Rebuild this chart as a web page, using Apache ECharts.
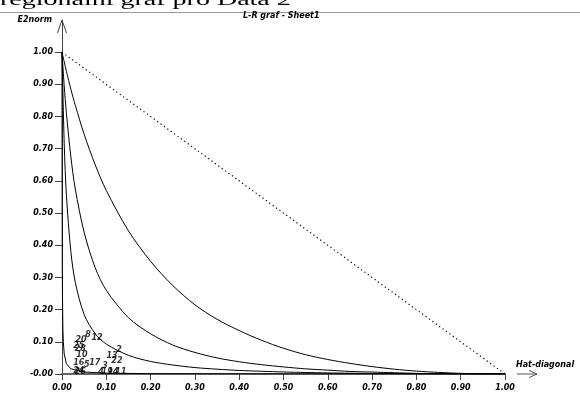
<!DOCTYPE html>
<html>
<head>
<meta charset="utf-8">
<script src="https://cdn.jsdelivr.net/npm/echarts@6/dist/echarts.min.js"></script>
<style>
  html, body { margin: 0; padding: 0; background: #fff; }
  #chart { width: 580px; height: 394px; }
</style>
</head>
<body>
<div id="chart"></div>
<script>
// Tick positions shared by both axes
const tickValues = [0, 0.1, 0.2, 0.3, 0.4, 0.5, 0.6, 0.7, 0.8, 0.9, 1.0];

// Hat-diagonal values where the three outer contours are sampled
const contourHat = [0, 0.005, 0.01, 0.02, 0.03, 0.05, 0.075, 0.1, 0.15, 0.2, 0.25, 0.3, 0.35,
  0.4, 0.45, 0.5, 0.55, 0.6, 0.65, 0.7, 0.75, 0.8, 0.85, 0.9, 0.95, 1];
const contourOuter = [1, 0.97, 0.94, 0.885, 0.835, 0.745, 0.65, 0.57, 0.445, 0.35, 0.275, 0.215, 0.17,
  0.135, 0.105, 0.08, 0.06, 0.045, 0.033, 0.023, 0.015, 0.009, 0.005, 0.002, 0.0005, 0];
const contourMiddle = [1, 0.895, 0.81, 0.675, 0.575, 0.44, 0.33, 0.26, 0.175, 0.125, 0.09, 0.067, 0.05,
  0.038, 0.029, 0.022, 0.016, 0.012, 0.008, 0.006, 0.004, 0.002, 0.001, 0.0005, 0.0001, 0];
const contourInner = [1, 0.715, 0.555, 0.38, 0.285, 0.185, 0.125, 0.093, 0.058, 0.039, 0.028, 0.02, 0.015,
  0.011, 0.0085, 0.0063, 0.0047, 0.0034, 0.0024, 0.0016, 0.0011, 0.0006, 0.0003, 0.0001, 0, 0];

// Innermost contour hugs the axes, so it gets its own finer sampling
const edgeHat = [0, 0.0003, 0.0007, 0.001, 0.002, 0.003, 0.005, 0.01, 0.02, 0.05, 0.1, 0.2, 0.5, 1];
const edgeE2 = [1, 0.52, 0.32, 0.25, 0.14, 0.1, 0.062, 0.032, 0.016, 0.006, 0.0027, 0.001, 0.0002, 0];

// Limit line h + e2 = 1
const limitHat = [0, 1];
const limitE2 = [1, 0];

// Observations, drawn as their index numbers
const pointNames = ['20', '8', '12', '25', '28', '10', '16', '5', '17', '24', '26',
  '13', '2', '22', '3', '4', '19', '14', '11'];
const pointHat = [0.043, 0.059, 0.079, 0.038, 0.041, 0.045, 0.038, 0.056, 0.074, 0.038, 0.041,
  0.113, 0.129, 0.124, 0.097, 0.088, 0.102, 0.115, 0.133];
const pointE2 = [0.106, 0.121, 0.112, 0.087, 0.078, 0.059, 0.034, 0.028, 0.034, 0.009, 0.006,
  0.056, 0.075, 0.04, 0.025, 0.006, 0.006, 0.006, 0.006];

const pairs = (xs, ys) => xs.map((x, i) => [x, ys[i]]);

const labelFont = {
  color: '#000',
  fontFamily: 'DejaVu Sans',
  fontWeight: 'bold',
  fontStyle: 'italic',
  fontSize: 8
};

const curveStyle = { color: '#000', width: 1 };

const chart = echarts.init(document.getElementById('chart'), null, { renderer: 'canvas' });

chart.setOption({
  animation: false,
  backgroundColor: '#fff',
  title: {
    text: 'L-R graf - Sheet1',
    left: 243,
    top: 12,
    padding: 0,
    textStyle: Object.assign({}, labelFont)
  },
  grid: { left: 62, right: 75, top: 20, bottom: 20, containLabel: false },
  xAxis: {
    type: 'value',
    min: 0,
    max: 1,
    interval: 0.1,
    name: 'Hat-diagonal',
    nameLocation: 'end',
    nameGap: 11,
    nameTextStyle: Object.assign({}, labelFont, { align: 'left', verticalAlign: 'bottom', padding: [0, 0, 5, 0] }),
    axisLine: { show: true, lineStyle: { color: '#666', width: 2 } },
    axisTick: { show: true, length: 6, lineStyle: { color: '#444', width: 1 } },
    axisLabel: Object.assign({}, labelFont, { margin: 10, formatter: v => v.toFixed(2) }),
    splitLine: { show: false }
  },
  yAxis: {
    type: 'value',
    min: 0,
    max: 1.1,
    name: 'E2norm',
    nameLocation: 'end',
    nameGap: 0,
    nameTextStyle: Object.assign({}, labelFont, { align: 'right', verticalAlign: 'middle', padding: [0, 10, 0, 0] }),
    axisLine: { show: true, lineStyle: { color: '#444', width: 1 } },
    axisTick: { show: true, length: 7, customValues: tickValues, lineStyle: { color: '#444', width: 1 } },
    axisLabel: Object.assign({}, labelFont, {
      margin: 9,
      customValues: tickValues,
      formatter: v => (v === 0 ? '-0.00' : v.toFixed(2))
    }),
    splitLine: { show: false }
  },
  series: [
    { type: 'line', data: pairs(limitHat, limitE2), symbol: 'none', silent: true,
      lineStyle: { color: '#000', width: 1.2, type: [1.2, 3] } },
    { type: 'line', data: pairs(contourHat, contourOuter), symbol: 'none', smooth: 0.3, silent: true, lineStyle: curveStyle },
    { type: 'line', data: pairs(contourHat, contourMiddle), symbol: 'none', smooth: 0.3, silent: true, lineStyle: curveStyle },
    { type: 'line', data: pairs(contourHat, contourInner), symbol: 'none', smooth: 0.3, silent: true, lineStyle: curveStyle },
    { type: 'line', data: pairs(edgeHat, edgeE2), symbol: 'none', silent: true, lineStyle: curveStyle },
    {
      type: 'scatter',
      symbolSize: 1,
      itemStyle: { color: 'rgba(0,0,0,0)' },
      data: pointNames.map((n, i) => ({ name: n, value: [pointHat[i], pointE2[i]] })),
      label: Object.assign({}, labelFont, { show: true, position: 'inside', fontSize: 8, formatter: p => p.name }),
      labelLayout: { hideOverlap: false },
      z: 5
    }
  ]
});

// Decorations: heading, rule under it and the open axis arrows
const tip = chart.convertToPixel({ gridIndex: 0 }, [0, 1.1]);
const xEnd = chart.convertToPixel({ gridIndex: 0 }, [1, 0]);

chart.setOption({
  graphic: [
    {
      type: 'text',
      x: 0,
      y: 1,
      scaleY: 0.6,
      style: {
        text: 'regionální graf pro Data 2',
        font: '28px "Liberation Serif"',
        fill: '#000',
        verticalAlign: 'middle',
        align: 'left'
      },
      z: 1
    },
    {
      type: 'line',
      shape: { x1: 0, y1: 12.5, x2: 580, y2: 12.5 },
      style: { stroke: '#999', lineWidth: 1 },
      z: 2
    },
    {
      type: 'polyline',
      shape: { points: [[tip[0] - 4.5, tip[1] + 13], [tip[0], tip[1]], [tip[0] + 4.5, tip[1] + 13]] },
      style: { stroke: '#444', lineWidth: 1, fill: null }
    },
    {
      type: 'polyline',
      shape: { points: [[xEnd[0] + 12, xEnd[1]], [xEnd[0] + 32, xEnd[1]]] },
      style: { stroke: '#555', lineWidth: 1, fill: null }
    },
    {
      type: 'polyline',
      shape: { points: [[xEnd[0] + 24, xEnd[1] - 3.5], [xEnd[0] + 32, xEnd[1]], [xEnd[0] + 24, xEnd[1] + 3.5]] },
      style: { stroke: '#555', lineWidth: 1, fill: null }
    }
  ]
});
</script>
</body>
</html>
